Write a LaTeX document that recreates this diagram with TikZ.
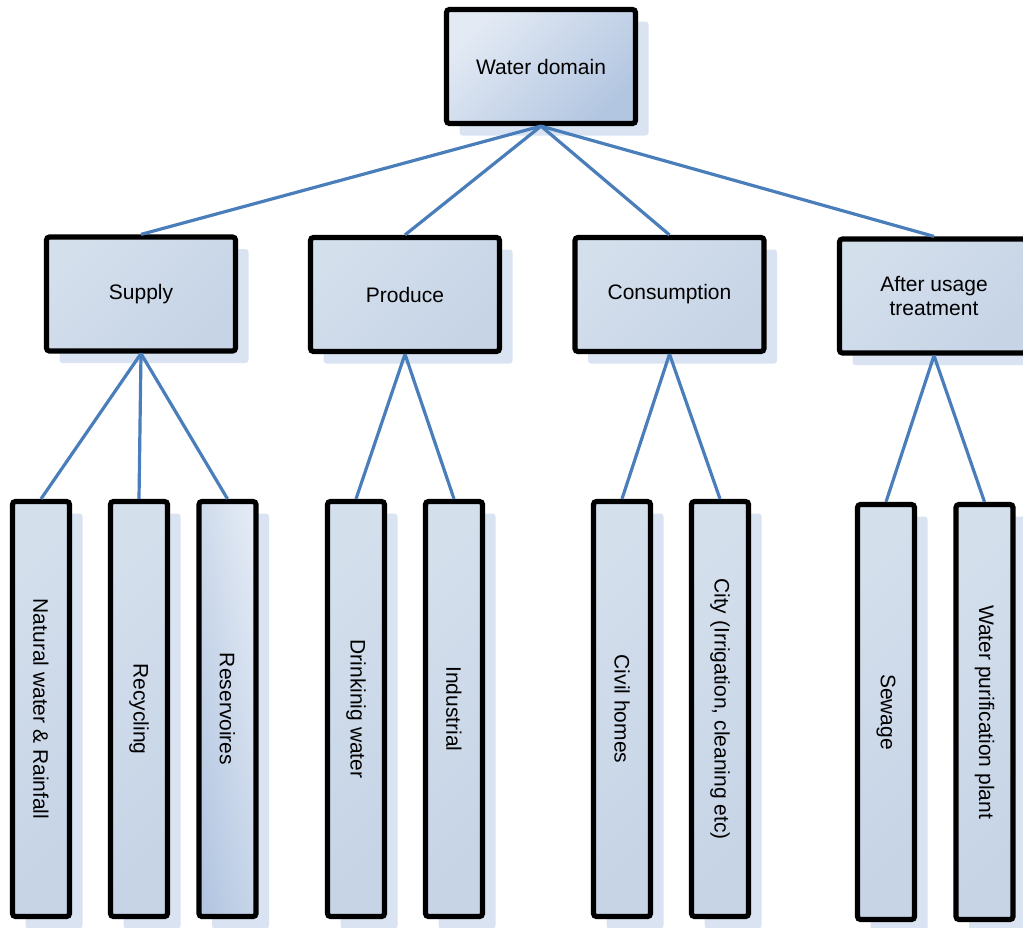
\documentclass[tikz,border=0pt]{standalone}
\usepackage{fontspec}
\setmainfont{Liberation Sans}
\usepackage{graphicx}
\usetikzlibrary{positioning,shadows}

\definecolor{boxlight}{HTML}{D4DFEC}
\definecolor{boxdark}{HTML}{C6D4E6}
\definecolor{toplight}{HTML}{E3EAF4}
\definecolor{topdark}{HTML}{B3C6E1}
\definecolor{shadowblue}{HTML}{DAE3F1}
\definecolor{linkblue}{HTML}{4A7EBB}

\tikzset{
  box/.style={draw=black, line width=2.6pt, rounded corners=1.5pt,
    left color=boxlight, right color=boxdark, shading angle=45,
    drop shadow={shadow xshift=6.5pt, shadow yshift=-6pt, fill=shadowblue, opacity=1},
    font=\fontsize{10.5}{12}\selectfont, align=center, text=black},
  catbox/.style={box, minimum width=94.5pt, minimum height=57pt},
  leafbox/.style={box, minimum width=28.5pt, minimum height=207.5pt, inner sep=0pt},
  link/.style={draw=linkblue, line width=1.6pt}
}

\begin{document}
\begin{tikzpicture}[x=0.5pt, y=-0.5pt]
    \useasboundingbox (0,0) rectangle (1023,927);
    % root
    \node[catbox, left color=toplight, right color=topdark, shading angle=45] (water) at (541,66.5) {Water domain};
    % row 1
    \node[catbox] (supply) at (141,294) {Supply};
    \node[catbox] (produce) at (405,294.5) {Produce};
    \node[catbox] (consume) at (669.5,294.5) {Consumption};
    \node[catbox] (after) at (934,296) {After usage\\treatment};
    % row 2, supply
    \node[leafbox] (natural) at (41,709) {\rotatebox{-90}{Natural water \& Rainfall}};
    \node[leafbox] (recycle) at (139,709) {\rotatebox{-90}{Recycling}};
    \node[leafbox, left color=topdark, right color=toplight, shading angle=100] (reserve) at (227.5,709) {\rotatebox{-90}{Reservoires}};
    % row 2, produce
    \node[leafbox] (drink) at (356,709) {\rotatebox{-90}{Drinkinig water}};
    \node[leafbox] (industry) at (454,709) {\rotatebox{-90}{Industrial}};
    % row 2, consumption
    \node[leafbox] (homes) at (622,709) {\rotatebox{-90}{Civil homes}};
    \node[leafbox] (city) at (720,709) {\rotatebox{-90}{City (Irrigation, cleaning etc)}};
    % row 2, after usage
    \node[leafbox] (sewage) at (886,712) {\rotatebox{-90}{Sewage}};
    \node[leafbox] (purify) at (984.5,712) {\rotatebox{-90}{Water purification plant}};
    % links
    \foreach \c in {supply,produce,consume,after}
        \draw[link] (water.south) -- (\c.north);
    \foreach \c in {natural,recycle,reserve}
        \draw[link] (supply.south) -- (\c.north);
    \foreach \c in {drink,industry}
        \draw[link] (produce.south) -- (\c.north);
    \foreach \c in {homes,city}
        \draw[link] (consume.south) -- (\c.north);
    \foreach \c in {sewage,purify}
        \draw[link] (after.south) -- (\c.north);
\end{tikzpicture}
\end{document}
